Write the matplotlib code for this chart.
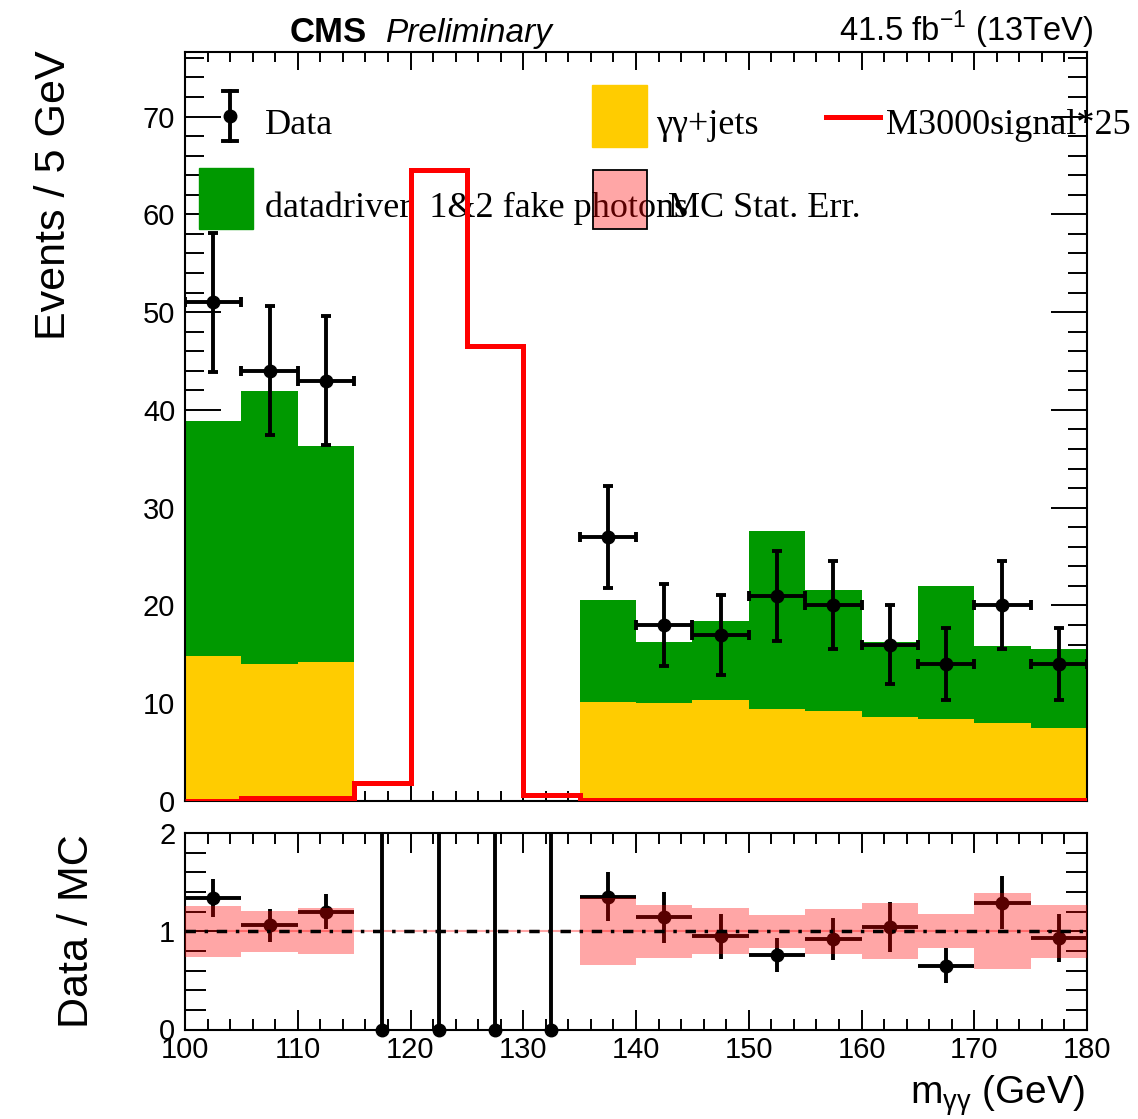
import numpy as np
import matplotlib
matplotlib.use("Agg")
import matplotlib.pyplot as plt
from matplotlib.ticker import MultipleLocator
from matplotlib.patches import Rectangle
from matplotlib.lines import Line2D

plt.rcParams["font.family"] = ["Liberation Sans", "DejaVu Sans"]

# binning: 100-180 GeV in 5 GeV bins
edges = np.arange(100, 181, 5)
centers = edges[:-1] + 2.5

# stacked backgrounds (events / 5 GeV)
gg_jets = [14.8, 14.0, 14.2, 0.05, 0.05, 0.05, 0.0, 10.15, 10.0, 10.3, 9.4, 9.2, 8.6, 8.35, 7.95, 7.45]
fake_photons = [24.1, 27.9, 22.1, 0.0, 0.0, 0.0, 0.0, 10.4, 6.3, 8.1, 18.2, 12.4, 7.7, 13.65, 7.9, 8.05]
signal_x25 = [0.05, 0.35, 0.35, 1.8, 64.5, 46.5, 0.6, 0.1, 0.1, 0.1, 0.1, 0.1, 0.1, 0.1, 0.1, 0.1]

# data (non-empty bins only)
data_x = [102.5, 107.5, 112.5, 137.5, 142.5, 147.5, 152.5, 157.5, 162.5, 167.5, 172.5, 177.5]
data_y = [51, 44, 43, 27, 18, 17, 21, 20, 16, 14, 20, 14]
data_err = [7.1, 6.6, 6.6, 5.2, 4.2, 4.1, 4.6, 4.5, 4.0, 3.7, 4.5, 3.7]

# ratio panel
ratio = [1.34, 1.06, 1.20, 1.35, 1.14, 0.95, 0.76, 0.92, 1.04, 0.65, 1.29, 0.93]
ratio_err = [0.19, 0.17, 0.18, 0.25, 0.26, 0.23, 0.17, 0.21, 0.255, 0.18, 0.27, 0.245]
empty_x = [117.5, 122.5, 127.5, 132.5]
mc_stat_err = [0.26, 0.21, 0.235, 0, 0, 0, 0, 0.34, 0.27, 0.235, 0.17, 0.23, 0.285, 0.175, 0.385, 0.27]

YELLOW = "#ffcc00"
GREEN = "#009900"
RED = "#ff0000"

W, H = 1138, 1119
fig = plt.figure(figsize=(W / 100, H / 100), dpi=100)


def fx(px):
    return px / W


def fy(py):
    return 1 - py / H


ax = fig.add_axes([fx(185), fy(801), fx(1087) - fx(185), fy(52) - fy(801)])
rax = fig.add_axes([fx(185), fy(1029.5), fx(1087) - fx(185), fy(833) - fy(1029.5)])

gg = np.array(gg_jets)
tot = gg + np.array(fake_photons)
ax.stairs(gg, edges, fill=True, color=YELLOW, zorder=2)
ax.stairs(tot, edges, baseline=gg, fill=True, color=GREEN, zorder=2)
ax.stairs(signal_x25, edges, color=RED, lw=3.6, zorder=4)
ax.errorbar(data_x, data_y, xerr=2.5, yerr=data_err, fmt="o", color="black",
            ms=9, elinewidth=2.8, capsize=3.5, capthick=2.8, zorder=5)

ax.set_xlim(100, 180)
ax.set_ylim(0, 76.6)
ax.xaxis.set_major_locator(MultipleLocator(10))
ax.xaxis.set_minor_locator(MultipleLocator(2))
ax.yaxis.set_major_locator(MultipleLocator(10))
ax.yaxis.set_minor_locator(MultipleLocator(2))
ax.tick_params(axis="both", which="both", direction="in", top=True, right=True, width=1.4)
ax.tick_params(axis="y", which="major", length=26, labelsize=21, pad=7)
ax.tick_params(axis="y", which="minor", length=13.5)
ax.tick_params(axis="x", which="major", length=13, labelbottom=False)
ax.tick_params(axis="x", which="minor", length=7)
for s in ax.spines.values():
    s.set_linewidth(1.5)


# legend drawn by hand inside main axes (px -> axes fraction)
def ax_xy(px, py):
    return (px - 185) / 902, (801 - py) / 749


ltr = ax.transAxes
x0, y0 = ax_xy(230, 116)
_, ytop = ax_xy(230, 91)
_, ybot = ax_xy(230, 141)
ax.add_line(Line2D([x0, x0], [ybot, ytop], color="black", lw=2.8, transform=ltr, clip_on=False))
ax.add_line(Line2D([x0], [y0], marker="o", ms=9, color="black", transform=ltr, clip_on=False))
for yy in (ytop, ybot):
    ax.add_line(Line2D([x0 - 0.008, x0 + 0.008], [yy, yy], color="black", lw=2.8, transform=ltr))

serif = dict(family="Liberation Serif", fontsize=26, va="baseline", transform=ltr, clip_on=False, zorder=3)
ax.text(*ax_xy(265, 134), "Data", **serif)
ax.text(*ax_xy(656, 134), "γγ+jets", **serif)
ax.text(*ax_xy(886, 134), "M3000signal*25", **serif)
ax.text(*ax_xy(265, 217), "datadriver  1&2 fake photons", **serif)
ax.text(*ax_xy(668, 217), "MC Stat. Err.", **serif)

bx, by = ax_xy(592, 147)
bx2, by2 = ax_xy(647, 85)
ax.add_patch(Rectangle((bx, by), bx2 - bx, by2 - by, color=YELLOW, transform=ltr, zorder=3))
bx, by = ax_xy(199, 229)
bx2, by2 = ax_xy(253, 168)
ax.add_patch(Rectangle((bx, by), bx2 - bx, by2 - by, color=GREEN, transform=ltr, zorder=3))
bx, by = ax_xy(593, 229)
bx2, by2 = ax_xy(647, 170)
ax.add_patch(Rectangle((bx, by), bx2 - bx, by2 - by, facecolor=(1, 0, 0, 0.35),
                       edgecolor="black", lw=1.3, transform=ltr, zorder=3.5))
lx1, ly = ax_xy(826, 117)
lx2, _ = ax_xy(880, 117)
ax.add_line(Line2D([lx1, lx2], [ly, ly], color=RED, lw=3.6, transform=ltr))

# ratio panel
rax.axhline(1, color=RED, alpha=0.35, lw=1.5, zorder=1)
rax.errorbar(data_x, ratio, xerr=2.5, yerr=ratio_err, fmt="o", color="black",
             ms=9, elinewidth=2.8, capsize=0, zorder=2)
rax.vlines(empty_x, 0, 3, color="black", lw=2.8, zorder=2)
rax.plot(empty_x, [0] * len(empty_x), "o", color="black", ms=9, clip_on=False, zorder=6)
band = np.array(mc_stat_err)
rax.bar(centers, 2 * band, bottom=1 - band, width=5, color=RED, alpha=0.35, lw=0, zorder=3)
rax.axhline(1, color="black", lw=2.5, ls=(0, (3, 2.5, 1, 2.5)), zorder=4)

rax.set_xlim(100, 180)
rax.set_ylim(0, 2)
rax.xaxis.set_major_locator(MultipleLocator(10))
rax.xaxis.set_minor_locator(MultipleLocator(2))
rax.yaxis.set_major_locator(MultipleLocator(1))
rax.yaxis.set_minor_locator(MultipleLocator(0.2))
rax.tick_params(axis="both", which="both", direction="in", top=True, right=True, width=1.4)
rax.tick_params(axis="y", which="major", length=29, labelsize=21, pad=7)
rax.tick_params(axis="y", which="minor", length=15)
rax.tick_params(axis="x", which="major", length=14.5, labelsize=21, pad=5)
rax.tick_params(axis="x", which="minor", length=8)
for s in rax.spines.values():
    s.set_linewidth(1.5)

# labels
fig.text(fx(54), fy(50), "Events / 5 GeV", rotation=90, ha="center", va="top", fontsize=31)
fig.text(fx(77), fy(931), "Data / MC", rotation=90, ha="center", va="center", fontsize=31)
fig.text(fx(1085), fy(1096), r"m$_{\mathregular{γγ}}$ (GeV)", ha="right", va="center", fontsize=28)
fig.text(fx(290), fy(42), "CMS", fontsize=25, weight="bold", va="baseline")
fig.text(fx(386), fy(42), "Preliminary", fontsize=24, style="italic", va="baseline")
fig.text(fx(1093), fy(41), r"41.5 fb$^{\mathregular{-1}}$ (13TeV)", fontsize=23.5, ha="right", va="baseline")

fig.savefig("out.png", dpi=100)
